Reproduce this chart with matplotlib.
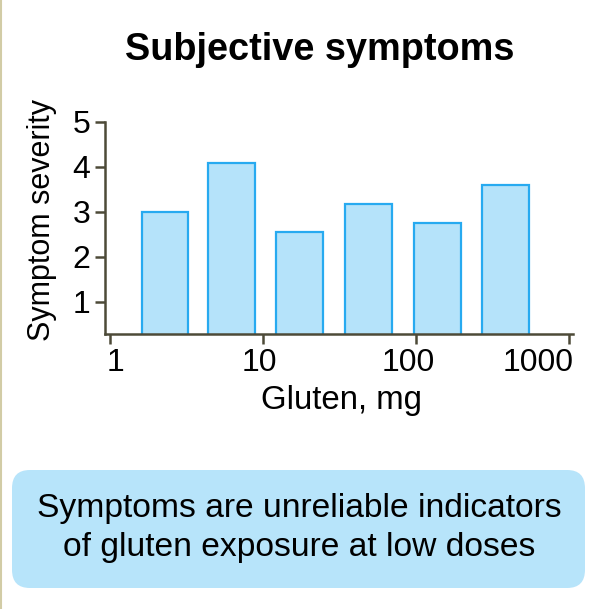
import matplotlib
matplotlib.use('Agg')
import matplotlib.pyplot as plt
from matplotlib.patches import FancyBboxPatch
from matplotlib.lines import Line2D
from matplotlib.transforms import ScaledTranslation
import numpy as np

# Data (bar centre dose in mg, severity)
doses_mg = [2.29, 6.25, 17.4, 49.0, 138.0, 384.0]
severity = [3.0, 4.08, 2.55, 3.18, 2.74, 3.6]
x_ticks = [1, 10, 100, 1000]
y_ticks = [1, 2, 3, 4, 5]

title = 'Subjective symptoms'
x_label = 'Gluten, mg'
y_label = 'Symptom severity'
note = 'Symptoms are unreliable indicators\nof gluten exposure at low doses'

plt.rcParams['font.family'] = ['Liberation Sans', 'DejaVu Sans']

fill_col = '#b5e3fa'
edge_col = '#27aaf0'
axis_col = '#4d4a38'
W, H = 594, 609

fig = plt.figure(figsize=(W / 100, H / 100), dpi=100)
ax = fig.add_axes([104.5 / W, 1 - 334 / H, 468.5 / W, 212.3 / H])

# bars are drawn in log space: each one spans ~0.305 decades
half = 0.153
centres = np.log10(doses_mg)
lefts = 10 ** (centres - half)
rights = 10 ** (centres + half)
ax.bar(lefts, severity, width=rights - lefts, align='edge',
       color=fill_col, edgecolor=edge_col, linewidth=1.6, zorder=2)

ax.set_xscale('log')
ax.set_xlim(0.921, 1057)
ax.set_ylim(0.28, 5)
ax.set_xticks(x_ticks)
ax.set_xticklabels([str(t) for t in x_ticks])
ax.minorticks_off()
ax.set_yticks(y_ticks)

for side in ['top', 'right']:
    ax.spines[side].set_visible(False)
for side in ['left', 'bottom']:
    ax.spines[side].set_color(axis_col)
    ax.spines[side].set_linewidth(1.8)
ax.tick_params(colors=axis_col, width=1.8, length=7, labelsize=23,
               labelcolor='black', pad=3)

# the x tick labels in the reference sit a little off their ticks
label_shift_px = [6, -4, -8, -31]
for lab, dx in zip(ax.get_xticklabels(), label_shift_px):
    lab.set_transform(lab.get_transform() +
                      ScaledTranslation(dx / 100, 0, fig.dpi_scale_trans))

fig.text(50 / W, 1 - 220 / H, y_label, rotation=90, rotation_mode='anchor',
         ha='center', va='baseline', fontsize=22)
fig.text(341.7 / W, 1 - 409 / H, x_label, ha='center', va='baseline',
         fontsize=23.8)
fig.text(320 / W, 1 - 59.5 / H, title, ha='center', va='baseline',
         fontsize=27.3, fontweight='bold')

# rounded note box at the bottom
box = FancyBboxPatch((12 / W, 1 - 588 / H), 573 / W, 118 / H,
                     boxstyle='round,pad=0,rounding_size=0.03',
                     transform=fig.transFigure, facecolor='#b7e4fa',
                     edgecolor='none')
fig.patches.append(box)
fig.text(299 / W, 1 - 528 / H, note, ha='center', va='center',
         fontsize=24.2, linespacing=1.3)

# thin beige frame line on the left edge
fig.lines.append(Line2D([1 / W, 1 / W], [0, 1], transform=fig.transFigure,
                        color='#d2cca6', linewidth=1.5))

fig.savefig('out.png', dpi=100)
